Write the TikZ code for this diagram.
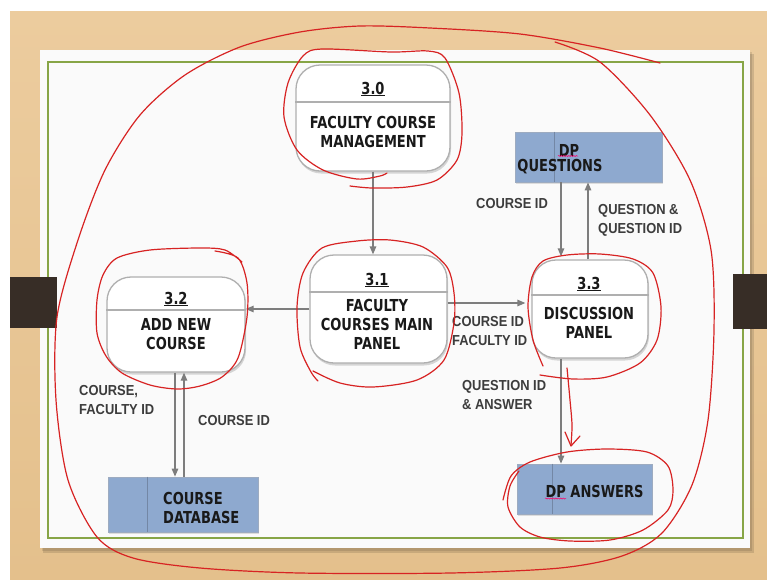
\documentclass[tikz,border=0pt]{standalone}
\usepackage{fontspec}
\newfontfamily\boxfont{DejaVu Sans}[FakeStretch=0.79]
\newfontfamily\lblfont{Liberation Sans}[FakeStretch=0.89]
\usetikzlibrary{arrows.meta,shadows,decorations.pathmorphing}
\definecolor{woodA}{RGB}{236,204,158}
\definecolor{woodB}{RGB}{228,192,140}
\definecolor{slide}{RGB}{250,250,250}
\definecolor{gborder}{RGB}{135,165,70}
\definecolor{tab}{RGB}{55,45,38}
\definecolor{blueA}{RGB}{142,169,207}
\definecolor{blueB}{RGB}{115,135,165}
\definecolor{procB}{RGB}{175,175,175}
\definecolor{flowC}{RGB}{125,125,125}
\definecolor{txtC}{RGB}{25,25,25}
\definecolor{lblC}{RGB}{60,60,60}
\definecolor{pen}{RGB}{215,35,35}
\tikzset{
  proc/.style={rectangle, rounded corners=24pt, draw=procB, line width=1.3pt, fill=white,
    drop shadow={shadow xshift=1pt, shadow yshift=-2.5pt, opacity=0.25, fill=black!60}},
  procdiv/.style={draw=procB, line width=1.2pt},
  store/.style={rectangle, draw=blueB!70, line width=0.8pt, fill=blueA,
    drop shadow={shadow xshift=1pt, shadow yshift=-2pt, opacity=0.2, fill=black!60}},
  storediv/.style={draw=blueB, line width=0.9pt},
  boxtxt/.style={font=\boxfont\bfseries\fontsize{16.5}{19}\selectfont, text=txtC, align=center, inner sep=0pt},
  lbl/.style={font=\lblfont\bfseries\fontsize{14.5}{19}\selectfont, text=lblC, align=left, inner sep=0pt, anchor=west},
  flow/.style={draw=flowC, line width=1.3pt, -{Triangle[length=8pt,width=6.5pt]}},
  redpen/.style={draw=pen, line width=1.2pt, line cap=round, line join=round},
  squig/.style={draw=red!60!magenta, line width=0.5pt, decorate, decoration={snake, segment length=2.5pt, amplitude=0.6pt}}
}
\begin{document}
\begin{tikzpicture}[x=1pt,y=-1pt]
\useasboundingbox (0,0) rectangle (767,579);
\fill[white] (0,0) rectangle (767,579);
\shade[top color=woodA, bottom color=woodB] (10,11) rectangle (767,579);
% slide
\fill[black, opacity=0.12] (43,54) rectangle (754,553);
\fill[black, opacity=0.10] (42,52) rectangle (752,551);
\fill[slide] (40,50) rectangle (750,548);
\draw[gborder, line width=1.5pt] (48,62) rectangle (743,538);
% tabs
\fill[tab] (10,277) rectangle (57,328);
\fill[tab] (733,274) rectangle (767,329);

% processes
\node[proc, minimum width=154pt, minimum height=106pt] (p30) at (373,118) {};
\node[proc, minimum width=137pt, minimum height=108pt] (p31) at (378.5,309) {};
\node[proc, minimum width=138pt, minimum height=95pt] (p32) at (176,324.5) {};
\node[proc, minimum width=116pt, minimum height=98pt] (p33) at (590,309) {};
\draw[procdiv] ([yshift=16pt]p30.west) -- ([yshift=16pt]p30.east);
\draw[procdiv] ([yshift=17pt]p31.west) -- ([yshift=17pt]p31.east);
\draw[procdiv] ([yshift=14.5pt]p32.west) -- ([yshift=14.5pt]p32.east);
\draw[procdiv] ([yshift=14pt]p33.west) -- ([yshift=14pt]p33.east);

\node[boxtxt] (p30n) at (373,89) {\underline{3.0}};
\node[boxtxt] (p30t) at (373,132) {FACULTY COURSE\\MANAGEMENT};
\node[boxtxt] (p31n) at (377,280) {\underline{3.1}};
\node[boxtxt] (p31t) at (377,324) {FACULTY\\COURSES MAIN\\PANEL};
\node[boxtxt] (p32n) at (176,299) {\underline{3.2}};
\node[boxtxt] (p32t) at (176,334) {ADD NEW\\COURSE};
\node[boxtxt] (p33n) at (589,284) {\underline{3.3}};
\node[boxtxt] (p33t) at (589,323) {DISCUSSION\\PANEL};

% data stores
\node[store, minimum width=147pt, minimum height=50pt] (dq) at (588.5,157) {};
\node[store, minimum width=150pt, minimum height=55pt] (cdb) at (183,504.5) {};
\node[store, minimum width=135pt, minimum height=50pt] (da) at (584.5,489) {};
\draw[storediv] ([xshift=40pt]dq.north west) -- ([xshift=40pt]dq.south west);
\draw[storediv] ([xshift=40pt]cdb.north west) -- ([xshift=40pt]cdb.south west);
\draw[storediv] ([xshift=36pt]da.north west) -- ([xshift=36pt]da.south west);
\node[boxtxt] (dqt1) at (569,150) {DP};
\node[boxtxt] (dqt2) at (560,167) {QUESTIONS};
\node[boxtxt, anchor=west, align=left] (cdbt) at (163,508) {COURSE\\DATABASE};
\node[boxtxt] (dat) at (594.5,491) {DP ANSWERS};
\draw[squig] (558,156) -- (578,156);
\draw[squig] (545,498.5) -- (566,498.5);

% flows
\coordinate (c1) at (373,0);
\coordinate (c3) at (0,303);
\coordinate (c4) at (588,0);
\coordinate (c5) at (561,0);
\coordinate (c7) at (175,0);
\coordinate (c8) at (184,0);
\draw[flow] (p30.south -| c1) -- (p31.north -| c1);
\draw[flow] (p31.west) -- (p31.west -| p32.east);
\draw[flow, shorten >=6pt] (p31.east |- c3) -- (p33.west |- c3);
\draw[flow] (p33.north -| c4) -- (dq.south -| c4);
\draw[flow, shorten >=3pt] (dq.south -| c5) -- (p33.north -| c5);
\draw[flow] (p33.south -| c5) -- (da.north -| c5);
\draw[flow] (p32.south -| c7) -- (cdb.north -| c7);
\draw[flow] (cdb.north -| c8) -- (p32.south -| c8);

% labels
\node[lbl] (l1) at (476,204) {COURSE ID};
\node[lbl] (l2) at (598,220) {QUESTION \&\\QUESTION ID};
\node[lbl] (l3) at (452,330.5) {COURSE ID\\FACULTY ID};
\node[lbl] (l4) at (462,395) {QUESTION ID\\\& ANSWER};
\node[lbl] (l5) at (79,400) {COURSE,\\FACULTY ID};
\node[lbl] (l6) at (198,420) {COURSE ID};

% red annotations
\draw[redpen] plot[smooth] coordinates {(555,42) (600,62) (650,115) (690,180) (711,250) (714,330) (708,420) (692,485) (662,533) (622,556) (560,568) (450,573) (300,573) (200,568) (133,558) (97,537) (68,480) (56,400) (57,317) (78,240) (105,170) (140,115) (185,75) (240,47) (300,32) (360,26) (430,28) (520,34) (600,48) (660,63)};
\draw[redpen] plot[smooth] coordinates {(387,173) (380,176) (357,179) (323,170) (297,150) (284,117) (288,83) (303,56) (322,49) (391,52) (428,51) (445,58) (459,93) (462,133) (457,160) (437,180) (407,187) (372,188) (350,186)};
\draw[redpen] plot[smooth] coordinates {(318,381) (311,372) (300,347) (297,307) (303,273) (322,248) (357,241) (390,240) (423,247) (447,267) (454,293) (454,323) (444,360) (417,380) (373,387) (340,383) (313,371)};
\draw[redpen] plot[smooth] coordinates {(215,251) (238,258) (247,283) (247,317) (238,358) (222,377) (200,386) (177,389) (150,385) (122,373) (106,356) (97,333) (97,300) (103,275) (117,258) (150,250) (200,248) (225,250) (242,262)};
\draw[redpen] plot[smooth] coordinates {(543,366) (533,340) (528,307) (532,277) (543,261) (567,255) (600,254) (633,259) (653,273) (661,307) (657,340) (640,363) (607,377) (573,379) (540,375)};
\draw[redpen] plot[smooth] coordinates {(567,368) (570,400) (572,425) (571,445)};
\draw[redpen] (565,432) -- (571,446) -- (580,436);
\draw[redpen] plot[smooth] coordinates {(503,500) (511,476) (530,462) (567,452) (607,449) (647,452) (668,466) (673,490) (668,510) (643,530) (610,540) (570,541) (540,537) (520,527) (508,507) (510,486) (519,471)};
\end{tikzpicture}
\end{document}
